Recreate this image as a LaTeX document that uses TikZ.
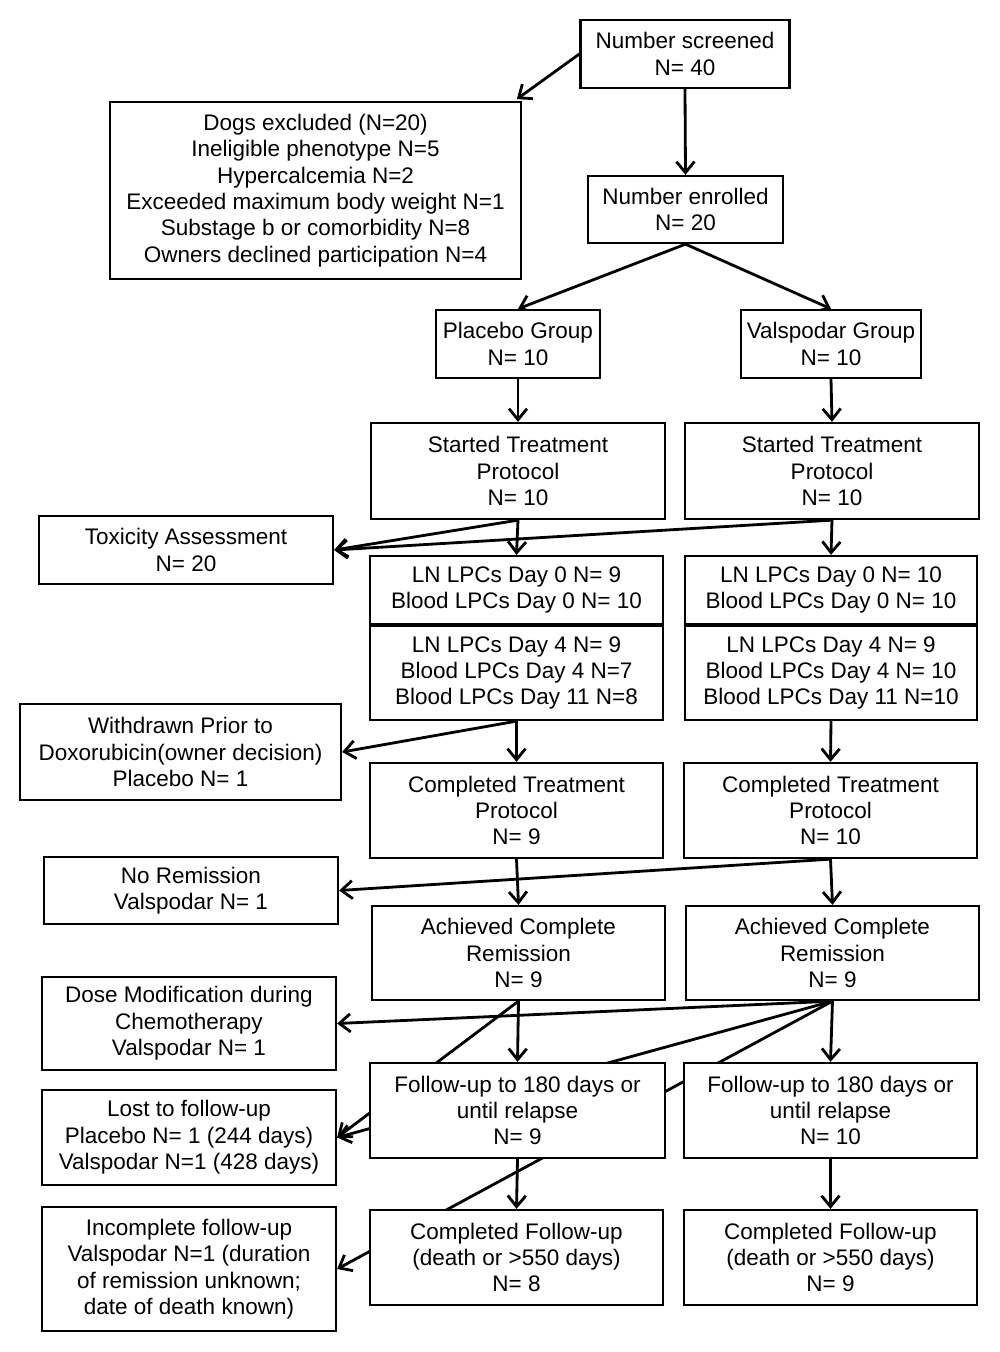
\documentclass[tikz,border=0pt]{standalone}
\usepackage{fontspec}
\setmainfont{Liberation Sans}
\usetikzlibrary{arrows.meta,backgrounds}

\tikzset{
	box/.style={draw, line width=1.3pt, fill=white, align=center, inner sep=2pt,
		minimum width=5.88cm, font=\fontsize{12.8}{15}\selectfont},
	link/.style={line width=1.6pt, -{Straight Barb[length=2.2mm,width=3.6mm,line width=1.6pt]}}
}

\begin{document}
\begin{tikzpicture}
	
	\useasboundingbox (0,0) rectangle (20,-27.04);
	
	\node[box, minimum width=4.18cm, minimum height=1.36cm] (screen) at (13.70,-1.08) {Number screened\\N= 40};
	\node[box, minimum width=8.22cm, minimum height=3.54cm] (excl) at (6.31,-3.81) {Dogs excluded (N=20)\\Ineligible phenotype N=5\\Hypercalcemia N=2\\Exceeded maximum body weight N=1\\Substage b or comorbidity N=8\\Owners declined participation N=4};
	\node[box, minimum width=3.9cm, minimum height=1.34cm] (enrol) at (13.71,-4.19) {Number enrolled\\N= 20};
	
	\node[box, minimum width=3.28cm, minimum height=1.36cm] (pgroup) at (10.36,-6.88) {Placebo Group\\N= 10};
	\node[box, minimum width=3.6cm, minimum height=1.36cm] (vgroup) at (16.62,-6.88) {Valspodar Group\\N= 10};
	
	\node[box, minimum height=1.92cm] (pstart) at (10.36,-9.42) {Started Treatment\\Protocol\\N= 10};
	\node[box, minimum height=1.92cm] (vstart) at (16.64,-9.42) {Started Treatment\\Protocol\\N= 10};
	\node[box, minimum height=1.36cm] (tox) at (3.72,-11.0) {Toxicity Assessment\\N= 20};
	
	\node[box, minimum width=5.86cm, minimum height=1.36cm] (plpc0) at (10.33,-11.8) {LN LPCs Day 0 N= 9\\Blood LPCs Day 0 N= 10};
	\node[box, minimum width=5.86cm, minimum height=1.88cm] (plpc4) at (10.33,-13.46) {LN LPCs Day 4 N= 9\\Blood LPCs Day 4 N=7\\Blood LPCs Day 11 N=8};
	\node[box, minimum width=5.84cm, minimum height=1.36cm] (vlpc0) at (16.62,-11.8) {LN LPCs Day 0 N= 10\\Blood LPCs Day 0 N= 10};
	\node[box, minimum width=5.84cm, minimum height=1.88cm] (vlpc4) at (16.62,-13.46) {LN LPCs Day 4 N= 9\\Blood LPCs Day 4 N= 10\\Blood LPCs Day 11 N=10};
	\node[box, minimum width=6.42cm, minimum height=1.92cm] (withd) at (3.61,-15.04) {Withdrawn Prior to\\Doxorubicin(owner decision)\\Placebo N= 1};
	
	\node[box, minimum width=5.86cm, minimum height=1.9cm] (pcomp) at (10.33,-16.21) {Completed Treatment\\Protocol\\N= 9};
	\node[box, minimum width=5.86cm, minimum height=1.9cm] (vcomp) at (16.61,-16.21) {Completed Treatment\\Protocol\\N= 10};
	\node[box, minimum height=1.34cm] (norem) at (3.82,-17.81) {No Remission\\Valspodar N= 1};
	
	\node[box, minimum width=5.86cm, minimum height=1.88cm] (pcr) at (10.37,-19.06) {Achieved Complete\\Remission\\N= 9};
	\node[box, minimum width=5.86cm, minimum height=1.88cm] (vcr) at (16.65,-19.06) {Achieved Complete\\Remission\\N= 9};
	\node[box, minimum height=1.86cm] (dose) at (3.78,-20.47) {Dose Modification during\\Chemotherapy\\Valspodar N= 1};
	
	\node[box, minimum width=5.9cm, minimum height=1.9cm] (pfu) at (10.35,-22.21) {Follow-up to 180 days or\\until relapse\\N= 9};
	\node[box, minimum width=5.86cm, minimum height=1.9cm] (vfu) at (16.61,-22.21) {Follow-up to 180 days or\\until relapse\\N= 10};
	\node[box, minimum height=1.9cm] (lost) at (3.78,-22.75) {Lost to follow-up\\Placebo N= 1 (244 days)\\Valspodar N=1 (428 days)};
	
	\node[box, minimum width=5.86cm, minimum height=1.9cm] (pcfu) at (10.33,-25.15) {Completed Follow-up\\(death or >550 days)\\N= 8};
	\node[box, minimum width=5.86cm, minimum height=1.9cm] (vcfu) at (16.61,-25.15) {Completed Follow-up\\(death or >550 days)\\N= 9};
	\node[box, minimum height=2.48cm] (incomp) at (3.78,-25.38) {Incomplete follow-up\\Valspodar N=1 (duration\\of remission unknown;\\date of death known)};
	
	\begin{scope}[on background layer]
		\draw[link] (screen.west) -- ([xshift=-3pt,yshift=1pt]excl.north east);
		\draw[link] (screen.south) -- (enrol.north);
		\draw[link] (enrol.south) -- (pgroup.north);
		\draw[link] (enrol.south) -- (vgroup.north);
		
		\draw[link] (pgroup.south) -- (pstart.north);
		\draw[link] (vgroup.south) -- (vstart.north);
		\draw[link] (pstart.south) -- (plpc0.north);
		\draw[link] (vstart.south) -- (vlpc0.north);
		\draw[link] (pstart.south) -- (tox.east);
		\draw[link] (vstart.south) -- (tox.east);
		
		\draw[link] (plpc4.south) -- (pcomp.north);
		\draw[link] (vlpc4.south) -- (vcomp.north);
		\draw[link] (plpc4.south) -- (withd.east);
		
		\draw[link] (pcomp.south) -- (pcr.north);
		\draw[link] (vcomp.south) -- (vcr.north);
		\draw[link] (vcomp.south) -- (norem.east);
		
		\draw[link] (pcr.south) -- (pfu.north);
		\draw[link] (vcr.south) -- (vfu.north);
		\draw[link] (vcr.south) -- (dose.east);
		\draw[link] (pcr.south) -- (lost.east);
		\draw[link] (vcr.south) -- (lost.east);
		\draw[link] (vcr.south) -- (incomp.east);
		
		\draw[link] (pfu.south) -- (pcfu.north);
		\draw[link] (vfu.south) -- (vcfu.north);
	\end{scope}
\end{tikzpicture}
\end{document}
